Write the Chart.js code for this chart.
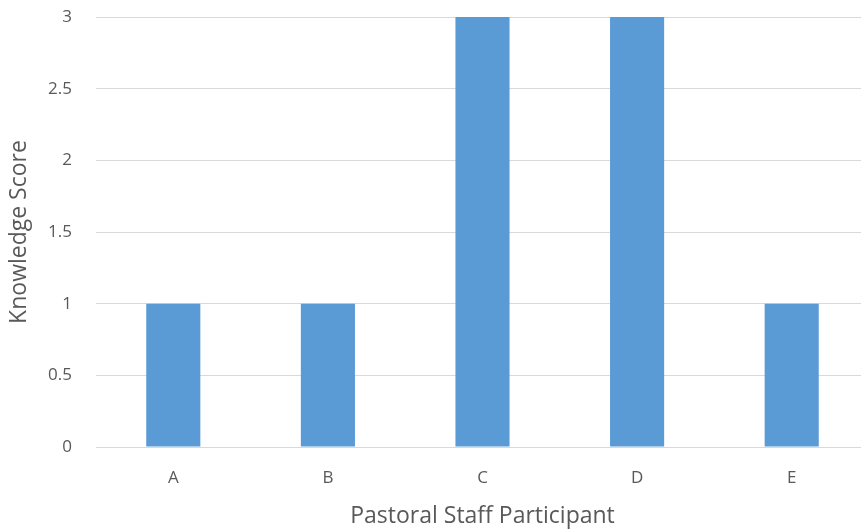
<!DOCTYPE html>
<html>
<head>
<meta charset="utf-8">
<script src="https://cdn.jsdelivr.net/npm/chart.js@4/dist/chart.umd.min.js"></script>
<style>
  html, body { margin: 0; padding: 0; background: #fff; overflow: hidden; }
  #wrap { width: 880px; height: 531px; }
</style>
</head>
<body>
<div id="wrap"><canvas id="c" width="880" height="531"></canvas></div>
<script>
// Knowledge score per pastoral staff participant
const participants = ['A', 'B', 'C', 'D', 'E'];
const knowledgeScores = [1, 1, 3, 3, 1];

const textColor = '#595959';
const fontFamily = '"Open Sans", "Liberation Sans", sans-serif';

new Chart(document.getElementById('c'), {
  type: 'bar',
  data: {
    labels: participants,
    datasets: [{
      data: knowledgeScores,
      backgroundColor: '#5B9BD5',
      borderWidth: 0,
      categoryPercentage: 1,
      barPercentage: 0.35
    }]
  },
  options: {
    responsive: false,
    animation: false,
    layout: { padding: { top: 17, right: 11, bottom: 0, left: 0 } },
    plugins: { legend: { display: false }, tooltip: { enabled: false } },
    scales: {
      x: {
        grid: { display: false, drawTicks: false },
        border: { display: true, color: '#D9D9D9', width: 1 },
        ticks: { color: textColor, font: { family: fontFamily, size: 17 }, padding: 21 },
        title: {
          display: true,
          text: 'Pastoral Staff Participant',
          color: textColor,
          font: { family: fontFamily, size: 23 },
          padding: { top: 0, bottom: 1 }
        },
        afterFit: (s) => { s.height = 84; s.paddingLeft = 0; s.paddingRight = 0; }
      },
      y: {
        min: 0,
        max: 3,
        ticks: {
          stepSize: 0.5,
          color: textColor,
          font: { family: fontFamily, size: 17 },
          padding: 24,
          callback: (v) => String(v)
        },
        grid: { color: '#D9D9D9', lineWidth: 1, drawTicks: false },
        border: { display: false },
        title: {
          display: true,
          text: 'Knowledge Score',
          color: textColor,
          font: { family: fontFamily, size: 23 },
          padding: { top: 6, bottom: 0 }
        },
        afterFit: (s) => { s.width = 96; s.paddingTop = 0; s.paddingBottom = 0; }
      }
    }
  }
});
</script>
</body>
</html>
